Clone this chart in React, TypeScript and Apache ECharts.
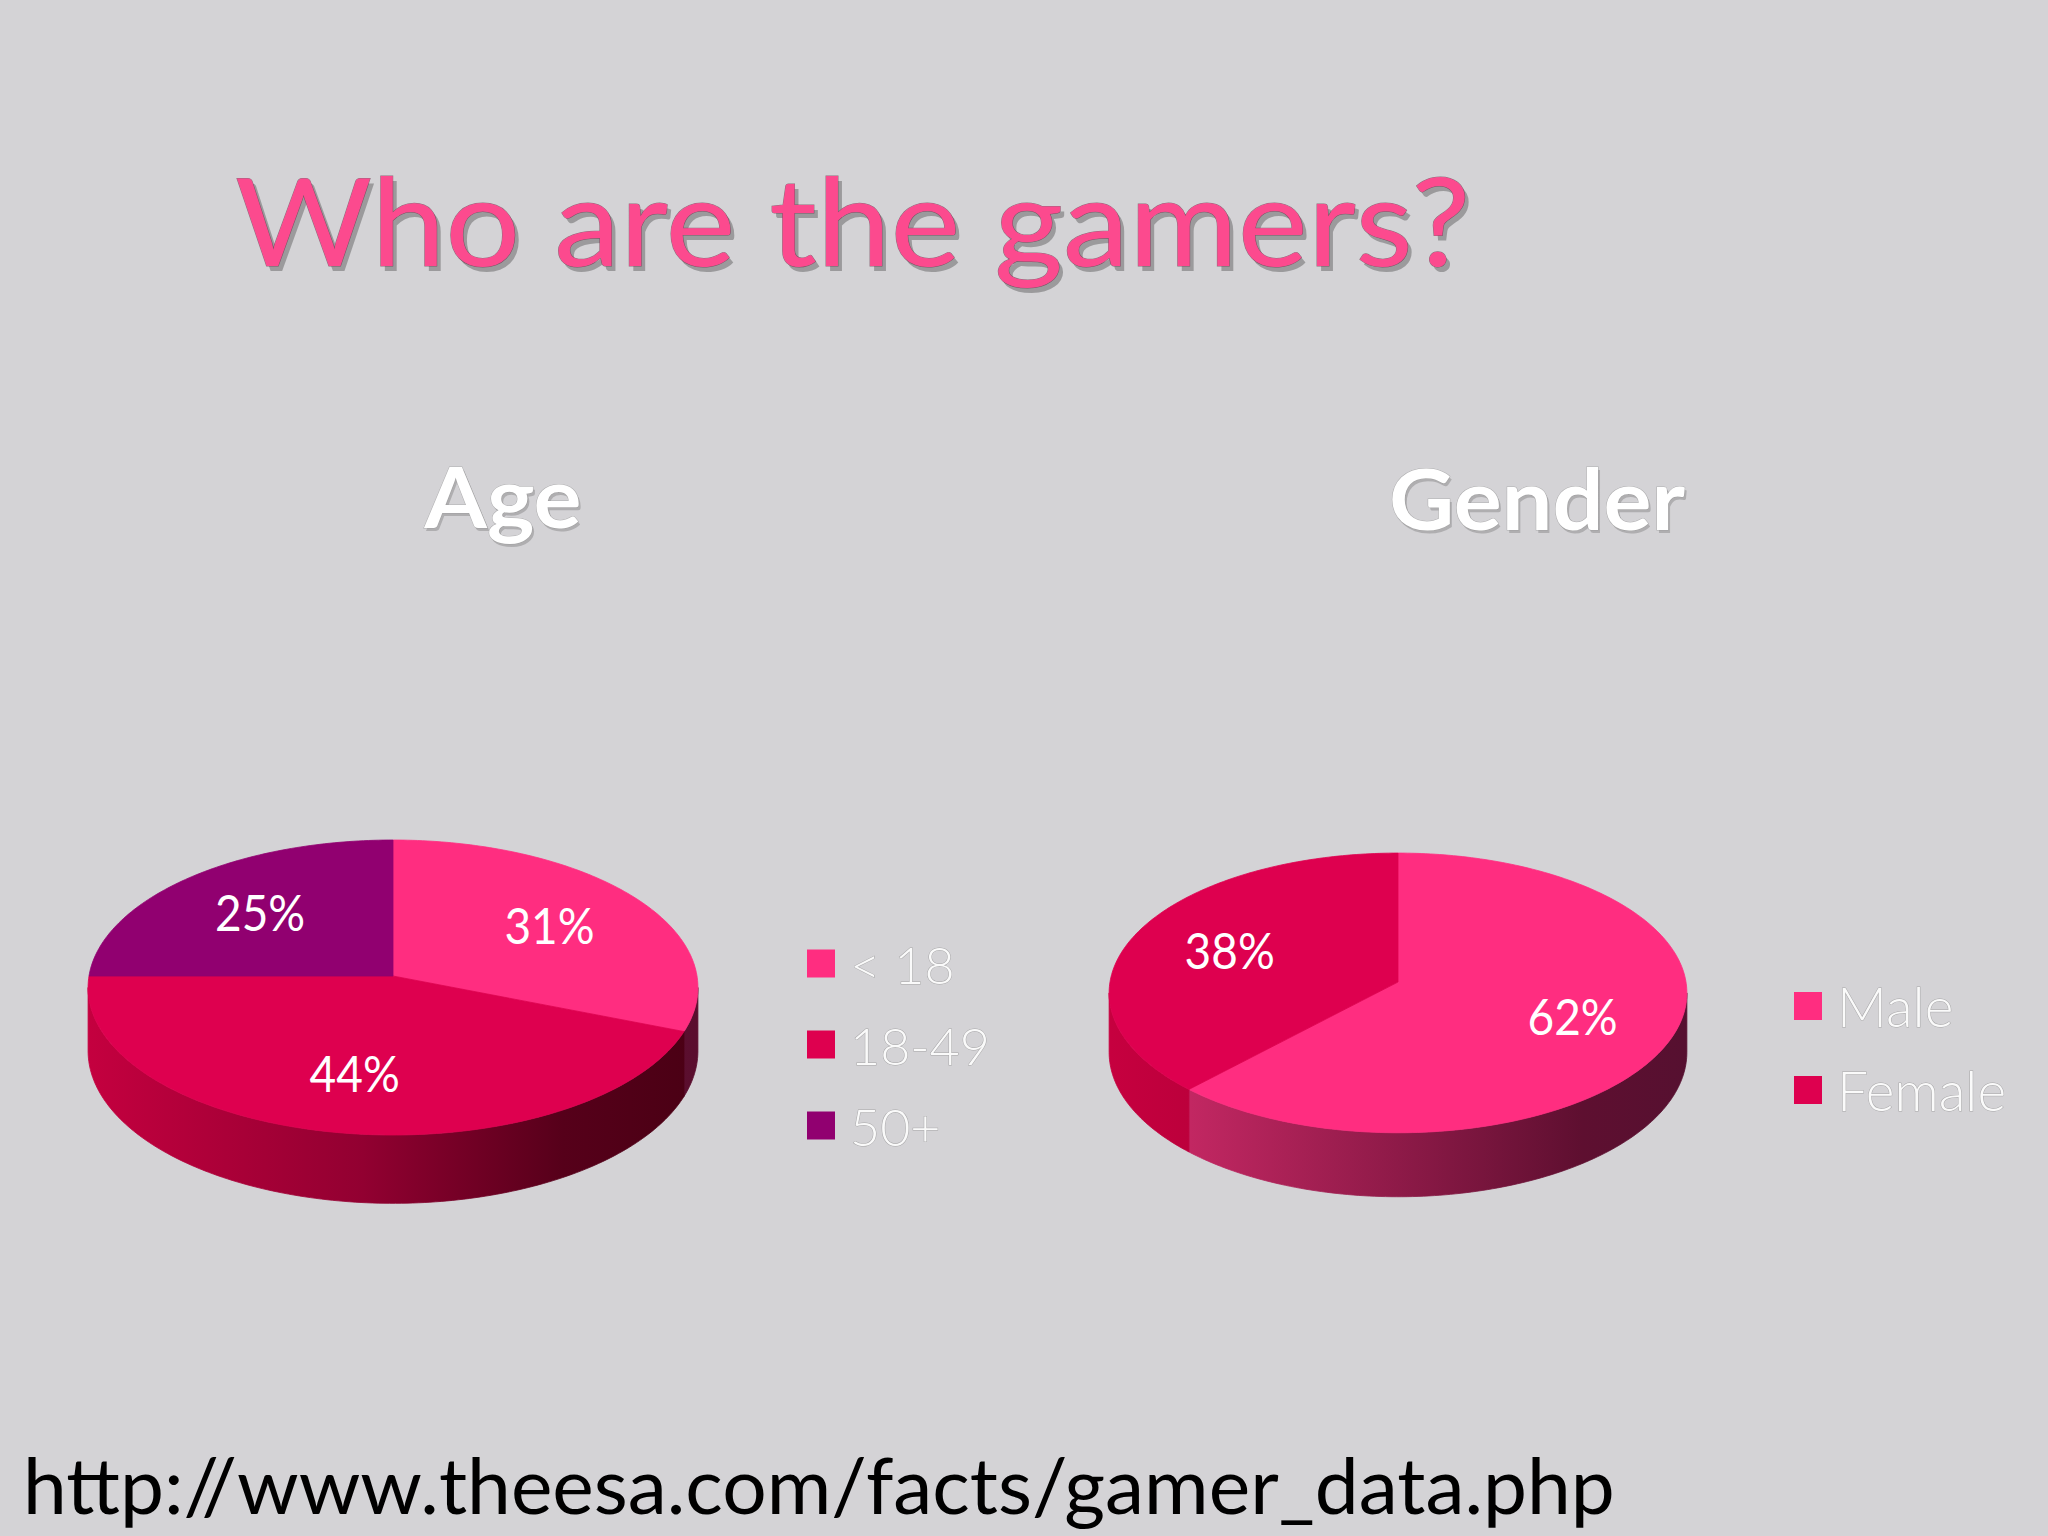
import React, { useEffect, useRef } from "react";
import * as echarts from "echarts";

// ---------- data ----------
const AGE_CATEGORIES = ["< 18", "18-49", "50+"];
const AGE_VALUES = [31, 44, 25];
const GENDER_CATEGORIES = ["Male", "Female"];
const GENDER_VALUES = [62, 38];

const TITLE = "Who are the gamers?";
const AGE_TITLE = "Age";
const GENDER_TITLE = "Gender";
const SOURCE = "http://www.theesa.com/facts/gamer_data.php";

// ---------- styles ----------
const AGE_COLORS = ["#ff2d80", "#de004f", "#910070"];
const GENDER_COLORS = ["#ff2d80", "#de004f"];
const AGE_SIDE_STOPS = [
  [["#d42a6a", 0], ["#8e1a48", 0.5], ["#5e0f30", 0.85], ["#5a0e2e", 1]],
  [["#c4003f", 0], ["#920031", 0.45], ["#56001a", 0.78], ["#4a0014", 1]],
  [["#7a005e", 0], ["#3e0030", 1]],
];
const GENDER_SIDE_STOPS = [
  [["#d62c6c", 0], ["#8e1a48", 0.5], ["#5e0f30", 0.82], ["#561030", 1]],
  [["#c6003f", 0], ["#b8003a", 0.2], ["#7a0026", 1]],
];

const AGE_GEOM = { cx: 393, cy: 976, rx: 304, ry: 146.6, k: 0.078, h: 63 };
const GENDER_GEOM = { cx: 1398, cy: 982, rx: 288, ry: 139, k: 0.078, h: 59 };

const FONT = "Lato, 'Open Sans', sans-serif";

type Geom = { cx: number; cy: number; rx: number; ry: number; k: number; h: number };

function proj(g: Geom, deg: number, r = 1, drop = 0): number[] {
  const t = (deg * Math.PI) / 180;
  const X = Math.sin(t) * r;
  const Z = -Math.cos(t) * r;
  const s = 1 / (1 - g.k * Z);
  return [g.cx + g.rx * X * s, g.cy + g.ry * Z * s + drop * s];
}

function arcPoints(g: Geom, a: number, b: number, drop = 0): number[][] {
  const pts: number[][] = [];
  const n = Math.max(2, Math.ceil(Math.abs(b - a) / 1));
  for (let i = 0; i <= n; i++) pts.push(proj(g, a + ((b - a) * i) / n, 1, drop));
  return pts;
}

function sliceSeries(
  names: string[],
  values: number[],
  idx: number,
  g: Geom,
  colors: string[],
  sideStops: any[]
) {
  const total = values.reduce((s, v) => s + v, 0);
  return {
    type: "custom",
    name: names[idx],
    coordinateSystem: "none",
    itemStyle: { color: colors[idx] },
    silent: true,
    data: [values[idx]],
    renderItem: (_params: any, api: any) => {
      const v = api.value(0) as number;
      const before = values.slice(0, idx).reduce((s, x) => s + x, 0);
      const a0 = (before / total) * 360;
      const a1 = ((before + v) / total) * 360;
      const children: any[] = [];
      const kDeg = (Math.asin(g.k) * 180) / Math.PI;
      const visA = 90 + kDeg;
      const visB = 270 - kDeg;
      const s0 = Math.max(a0, visA);
      const s1 = Math.min(a1, visB);
      if (s1 > s0) {
        const top = arcPoints(g, s0, s1, 0);
        const bot = arcPoints(g, s0, s1, g.h).reverse();
        const grad = new echarts.graphic.LinearGradient(
          g.cx - g.rx,
          0,
          g.cx + g.rx,
          0,
          sideStops[idx].map((s: any) => ({ offset: s[1], color: s[0] })),
          true
        );
        children.push({
          type: "polygon",
          shape: { points: top.concat(bot) },
          style: { fill: grad, stroke: grad, lineWidth: 0.8 },
        });
      }
      const face = [[g.cx, g.cy]].concat(arcPoints(g, a0, a1, 0));
      children.push({
        type: "polygon",
        shape: { points: face },
        style: { fill: colors[idx], stroke: colors[idx], lineWidth: 0.8 },
      });
      const mid = (a0 + a1) / 2;
      const lp = proj(g, mid, 0.64, 0);
      children.push({
        type: "text",
        z2: 100,
        scaleX: 0.92,
        x: lp[0],
        y: lp[1],
        style: {
          text: v + "%",
          x: 0,
          y: 0,
          fill: "#ffffff",
          fontSize: 50,
          fontFamily: FONT,
          align: "center",
          verticalAlign: "middle",
        },
      });
      return { type: "group", children };
    },
  };
}

const legendText = {
  fontSize: 52,
  lineHeight: 50,
  color: "#fafafa",
  fontFamily: FONT,
  fontWeight: 300,
  padding: [0, 0, 0, 10],
  textBorderColor: "rgba(130,130,130,0.55)",
  textBorderWidth: 1,
};

function shadowed(text: string, x: number, y: number, style: any, scaleX: number, shadow: any) {
  return [
    {
      type: "text",
      x: x + shadow.dx,
      y: y + shadow.dy,
      scaleX,
      style: { ...style, text, fill: shadow.color, stroke: null, lineWidth: 0 },
    },
    { type: "text", x, y, scaleX, style: { ...style, text } },
  ];
}

export default function App() {
  const ref = useRef<HTMLDivElement>(null);
  useEffect(() => {
    document.body.style.margin = "0";
    document.body.style.overflow = "hidden";
    const chart = echarts.init(ref.current!, null, { renderer: "svg" });
    const series: any[] = [];
    AGE_CATEGORIES.forEach((_, i) =>
      series.push(sliceSeries(AGE_CATEGORIES, AGE_VALUES, i, AGE_GEOM, AGE_COLORS, AGE_SIDE_STOPS))
    );
    GENDER_CATEGORIES.forEach((_, i) =>
      series.push(
        sliceSeries(GENDER_CATEGORIES, GENDER_VALUES, i, GENDER_GEOM, GENDER_COLORS, GENDER_SIDE_STOPS)
      )
    );
    const titleStyle = {
      fill: "#fc4a8e",
      fontSize: 122,
      fontWeight: 400,
      fontFamily: FONT,
      verticalAlign: "middle",
      stroke: "rgba(100,40,65,0.6)",
      lineWidth: 1,
    };
    const headStyle = {
      fill: "#ffffff",
      fontSize: 84,
      fontWeight: "bold",
      fontFamily: FONT,
      align: "center",
      verticalAlign: "middle",
      stroke: "rgba(150,150,150,0.6)",
      lineWidth: 1,
    };
    chart.setOption({
      animation: false,
      backgroundColor: "#d4d3d6",
      legend: [
        {
          data: AGE_CATEGORIES,
          orient: "vertical",
          left: 807,
          top: 937,
          icon: "rect",
          itemWidth: 28,
          itemHeight: 28,
          itemGap: 28,
          padding: 0,
          selectedMode: false,
          textStyle: legendText,
        },
        {
          data: GENDER_CATEGORIES,
          orient: "vertical",
          left: 1794,
          top: 978,
          icon: "rect",
          itemWidth: 28,
          itemHeight: 28,
          itemGap: 28,
          padding: 0,
          selectedMode: false,
          textStyle: { ...legendText, fontSize: 55 },
        },
      ],
      graphic: [
        ...shadowed(TITLE, 235, 219, titleStyle, 1.085, { dx: 4, dy: 5, color: "rgba(70,70,70,0.4)" }),
        ...shadowed(AGE_TITLE, 503, 496, headStyle, 1.07, { dx: 2, dy: 3, color: "rgba(90,90,90,0.3)" }),
        ...shadowed(GENDER_TITLE, 1537, 498, headStyle, 1.07, { dx: 2, dy: 3, color: "rgba(90,90,90,0.3)" }),
        {
          type: "text",
          x: 23,
          y: 1484,
          scaleX: 1.02,
          style: {
            text: SOURCE,
            fill: "#000000",
            fontSize: 77,
            fontFamily: FONT,
            verticalAlign: "middle",
          },
        },
      ],
      series,
    });
    return () => chart.dispose();
  }, []);
  return <div ref={ref} style={{ width: 2048, height: 1536 }} />;
}
